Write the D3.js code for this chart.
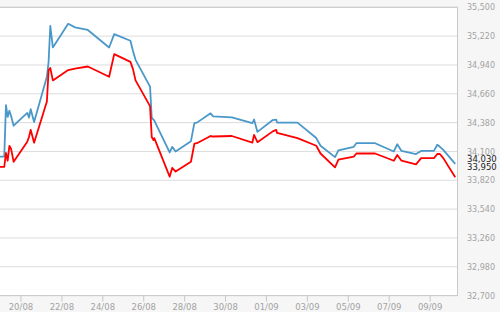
<!DOCTYPE html>
<html>
<head>
<meta charset="utf-8">
<script src="https://cdnjs.cloudflare.com/ajax/libs/d3/7.8.5/d3.min.js"></script>
<style>
  body { margin: 0; background: #f6f6f6; }
  svg { display: block; font-family: "DejaVu Sans", Verdana, sans-serif; }
  .axis path.domain { display: none; }
  .axis text { fill: #a3a3a3; }
  .x.axis line { stroke: #c8c8c8; }
  .grid line { stroke: #dcdcdc; }
</style>
</head>
<body>
<div id="chart"></div>
<script>
var times = [
  "2024-08-19 00:00", "2024-08-19 05:00", "2024-08-19 07:00", "2024-08-19 09:00", "2024-08-19 11:00", "2024-08-19 13:00", "2024-08-19 16:00",
  "2024-08-20 08:00", "2024-08-20 10:00", "2024-08-20 12:00", "2024-08-20 16:00",
  "2024-08-21 07:00", "2024-08-21 09:00", "2024-08-21 11:00", "2024-08-21 14:00",
  "2024-08-22 08:00", "2024-08-22 16:00", "2024-08-23 07:00",
  "2024-08-24 08:00", "2024-08-24 14:00",
  "2024-08-25 09:00", "2024-08-25 12:00", "2024-08-25 15:00",
  "2024-08-26 08:00", "2024-08-26 10:00", "2024-08-26 12:00", "2024-08-26 13:00",
  "2024-08-27 07:00", "2024-08-27 10:00", "2024-08-27 14:00",
  "2024-08-28 08:00", "2024-08-28 12:00", "2024-08-28 15:00",
  "2024-08-29 07:00", "2024-08-29 10:00",
  "2024-08-30 08:00",
  "2024-08-31 08:00", "2024-08-31 10:00", "2024-08-31 14:00",
  "2024-09-01 08:00", "2024-09-01 12:00", "2024-09-01 13:00",
  "2024-09-02 13:00",
  "2024-09-03 11:00", "2024-09-03 16:00",
  "2024-09-04 09:00", "2024-09-04 13:00",
  "2024-09-05 07:00", "2024-09-05 10:00",
  "2024-09-06 08:00",
  "2024-09-07 06:00", "2024-09-07 10:00", "2024-09-07 15:00",
  "2024-09-08 08:00", "2024-09-08 14:00",
  "2024-09-09 05:00", "2024-09-09 09:00", "2024-09-09 12:00", "2024-09-09 16:00",
  "2024-09-10 06:00"
];

// upper (blue) series
var sellValues = [
  34050, 34050, 34550, 34435, 34495, 34445, 34350,
  34475, 34430, 34510, 34385,
  34825, 34970, 35320, 35110,
  35340, 35305, 35280,
  35110, 35240,
  35175, 35075, 34990,
  34730, 34425, 34410, 34400,
  34090, 34145, 34100,
  34200, 34375, 34380,
  34470, 34440,
  34430,
  34375, 34410, 34290,
  34405, 34410, 34380,
  34380,
  34230, 34155,
  34045, 34110,
  34145, 34180,
  34180,
  34100, 34170, 34105,
  34075, 34105,
  34105, 34165, 34145, 34115,
  33980
];

// lower (red) series
var buyValues = [
  33950, 33950, 34085, 34010, 34155, 34125, 34000,
  34195, 34240, 34310, 34185,
  34585, 34890, 34910, 34790,
  34890, 34905, 34925,
  34825, 35045,
  34970, 34900, 34790,
  34540, 34240, 34210, 34230,
  33855, 33940, 33905,
  34000, 34175, 34180,
  34250, 34245,
  34250,
  34185, 34260, 34190,
  34295, 34310, 34280,
  34230,
  34155, 34080,
  33945, 34020,
  34050, 34080,
  34080,
  34010, 34065, 34010,
  33975, 34035,
  34035, 34075, 34075, 34035,
  33850
];

var dateTicks = ["2024-08-20", "2024-08-22", "2024-08-24", "2024-08-26", "2024-08-28", "2024-08-30",
  "2024-09-01", "2024-09-03", "2024-09-05", "2024-09-07", "2024-09-09"];
var valueTicks = [32700, 32980, 33260, 33540, 33820, 34100, 34380, 34660, 34940, 35220, 35500];
var lastLabels = [34030, 33950];

var W = 500, H = 312;
var plotLeft = 0, plotRight = 457.5, plotTop = 7.3, plotBottom = 295.6;

var parseTime = d3.timeParse("%Y-%m-%d %H:%M");
var parseDay = d3.timeParse("%Y-%m-%d");

var data = times.map(function(t, i) {
  return { date: parseTime(t), sell: sellValues[i], buy: buyValues[i] };
});

var x = d3.scaleTime()
  .domain([parseTime("2024-08-19 00:00"), parseTime("2024-09-10 08:40")])
  .range([plotLeft, plotRight]);
var y = d3.scaleLinear()
  .domain([d3.min(valueTicks), d3.max(valueTicks)])
  .range([plotBottom, plotTop]);

var svg = d3.select("#chart").append("svg")
  .attr("width", W).attr("height", H);

svg.append("rect")
  .attr("x", plotLeft - 1).attr("y", plotTop)
  .attr("width", plotRight - plotLeft + 1).attr("height", plotBottom - plotTop)
  .attr("fill", "#fff");

// gridlines
svg.append("g").attr("class", "grid")
  .selectAll("line").data(valueTicks).enter().append("line")
  .attr("x1", plotLeft).attr("x2", plotRight)
  .attr("y1", function(d) { return y(d); })
  .attr("y2", function(d) { return y(d); });

svg.append("rect")
  .attr("x", plotLeft - 1).attr("y", plotTop)
  .attr("width", plotRight - plotLeft + 1).attr("height", plotBottom - plotTop)
  .attr("fill", "none").attr("stroke", "#c9c9c9");

var xAxis = d3.axisBottom(x)
  .tickValues(dateTicks.map(parseDay))
  .tickSize(6).tickPadding(2)
  .tickFormat(d3.timeFormat("%d/%m"));
svg.append("g").attr("class", "x axis")
  .attr("transform", "translate(0," + plotBottom + ")")
  .call(xAxis)
  .selectAll("text").attr("font-size", "8.5px").attr("font-family", "DejaVu Sans, sans-serif");

var yAxis = d3.axisRight(y)
  .tickValues(valueTicks)
  .tickSize(0).tickPadding(9.5)
  .tickFormat(d3.format(","));
svg.append("g").attr("class", "y axis")
  .attr("transform", "translate(" + plotRight + ",0)")
  .call(yAxis)
  .selectAll("text").attr("font-size", "8px").attr("font-family", "DejaVu Sans, sans-serif");

var lineSell = d3.line().x(function(d) { return x(d.date); }).y(function(d) { return y(d.sell); });
var lineBuy = d3.line().x(function(d) { return x(d.date); }).y(function(d) { return y(d.buy); });

svg.append("path").datum(data)
  .attr("d", lineSell)
  .attr("fill", "none").attr("stroke", "#4a98c9").attr("stroke-width", 1.8)
  .attr("stroke-linejoin", "round");
svg.append("path").datum(data)
  .attr("d", lineBuy)
  .attr("fill", "none").attr("stroke", "#ff0000").attr("stroke-width", 1.8)
  .attr("stroke-linejoin", "round");

// current value labels (sit on top of the 34,100 tick, as in the original)
svg.append("g").selectAll("text").data(lastLabels).enter().append("text")
  .attr("x", plotRight + 9.5)
  .attr("y", function(d) { return y(d); })
  .attr("dy", "0.35em")
  .attr("font-size", "8.5px")
  .attr("fill", "#1a1a1a")
  .text(function(d) { return d3.format(",")(d); });
</script>
</body>
</html>
